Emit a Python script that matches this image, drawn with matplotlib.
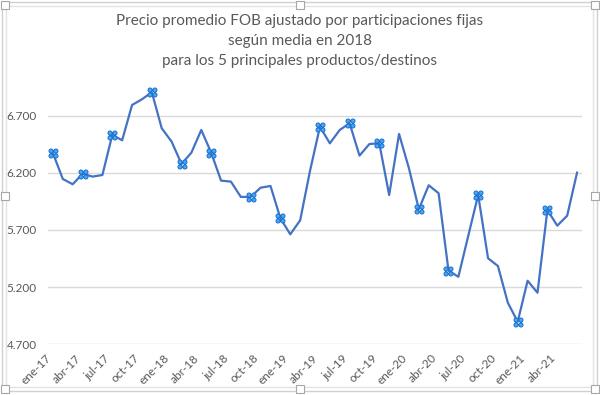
import matplotlib
matplotlib.use("Agg")
import matplotlib.pyplot as plt
from matplotlib.path import Path
from matplotlib.patches import Rectangle

meses = ["ene", "feb", "mar", "abr", "may", "jun", "jul", "ago", "sep", "oct", "nov", "dic"]
fechas = [m + "-" + str(a) for a in range(17, 22) for m in meses][:54]

precio = [6.373, 6.147, 6.101, 6.194, 6.168, 6.182, 6.533, 6.487, 6.796, 6.846,
          6.908, 6.592, 6.475, 6.279, 6.378, 6.577, 6.378, 6.133, 6.124, 5.990,
          5.990, 6.071, 6.086, 5.803, 5.662, 5.785, 6.220, 6.606, 6.460, 6.577,
          6.636, 6.352, 6.454, 6.460, 6.007, 6.542, 6.241, 5.882, 6.092, 6.022,
          5.343, 5.290, 5.650, 6.007, 5.452, 5.384, 5.062, 4.896, 5.255, 5.150,
          5.875, 5.738, 5.825, 6.203]

# meses con marcador
marcados = [0, 3, 6, 10, 13, 16, 20, 23, 27, 30, 33, 37, 40, 43, 47, 50]

yticks = [4.7, 5.2, 5.7, 6.2, 6.7]

gris = "#595959"
azul = "#4472C4"

# marcador de cuatro circulos
circ = [Path.circle((dx, dy), 0.42) for dx, dy in [(-0.5, -0.5), (0.5, -0.5), (-0.5, 0.5), (0.5, 0.5)]]
cuatro = Path.make_compound_path(*circ)

plt.rcParams["font.family"] = ["Lato", "DejaVu Sans"]

fig = plt.figure(figsize=(6, 3.95), dpi=100)
ax = fig.add_axes([0.08, 0.129, 0.89, 0.656])

x = list(range(len(precio)))
ax.plot(x, precio, color=azul, lw=1.6, zorder=3)
ax.plot([x[i] for i in marcados], [precio[i] for i in marcados], ls="none",
        marker=cuatro, ms=6.5, mfc="#47A8F0", mec="#1A6FD0", mew=0.7, zorder=4)

ax.set_xlim(-0.5, len(precio) - 0.5)
ax.set_ylim(4.7, 6.972)
ax.set_yticks(yticks)
ax.set_yticklabels(["{:.3f}".format(v) for v in yticks], color=gris, fontsize=8.5)
ax.set_xticks(x[::3])
ax.set_xticklabels(fechas[::3], rotation=45, ha="right", va="top", color=gris, fontsize=8.5)
ax.tick_params(axis="both", length=0, pad=8)
ax.tick_params(axis="x", pad=6)
ax.grid(axis="y", color="#d9d9d9", lw=1)
ax.set_axisbelow(True)
for s in ax.spines.values():
    s.set_visible(False)

fig.text(0.5, 1 - 21 / 395, "Precio promedio FOB ajustado por participaciones fijas",
         ha="center", va="center", color=gris, fontsize=11)
fig.text(0.5, 1 - 41 / 395, "según media en 2018", ha="center", va="center", color=gris, fontsize=11)
fig.text(0.5, 1 - 61 / 395, "para los 5 principales productos/destinos",
         ha="center", va="center", color=gris, fontsize=11)

# marco del grafico con asas
W, H = 600, 395
for x0, y0, x1, y1, c in [(2, 2, 597, 391, "#d0d0d0"), (6, 6, 593, 387, "#e2e2e2")]:
    fig.patches.append(Rectangle((x0 / W, 1 - y1 / H), (x1 - x0) / W, (y1 - y0) / H,
                                 transform=fig.transFigure, fill=False, ec=c, lw=1))
for hx, hy in [(5, 5), (300, 5), (595, 5), (5, 196), (595, 196), (5, 389), (300, 389), (595, 389)]:
    fig.patches.append(Rectangle(((hx - 4) / W, 1 - (hy + 4) / H), 8 / W, 8 / H,
                                 transform=fig.transFigure, fc="white", ec="#a6a6a6", lw=0.8, zorder=5))

fig.savefig("out.png", dpi=100)
